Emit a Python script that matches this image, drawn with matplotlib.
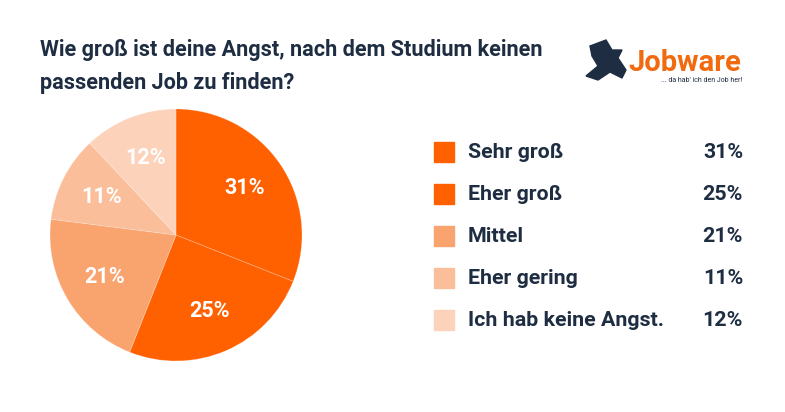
import matplotlib
matplotlib.use("Agg")
import matplotlib.pyplot as plt
from matplotlib.patches import Polygon

plt.rcParams["font.family"] = ["Roboto", "DejaVu Sans"]

# ── data ──────────────────────────────────────────────────────────────
TITLE_LINES = ["Wie groß ist deine Angst, nach dem Studium keinen",
               "passenden Job zu finden?"]
CATEGORIES = ["Sehr groß", "Eher groß", "Mittel", "Eher gering", "Ich hab keine Angst."]
VALUES = [31, 25, 21, 11, 12]
COLORS = ["#FF6000", "#FF6000", "#F9A36F", "#FBBE9A", "#FCD3BA"]

NAVY = "#1E2D42"
W, H = 785, 412

fig = plt.figure(figsize=(W / 100, H / 100), dpi=100)
fig.patch.set_facecolor("white")


def fx(px):
    return px / W


def fy(py):
    return 1 - py / H


# title
for y, line in zip([50, 83], TITLE_LINES):
    fig.text(fx(40), fy(y), line, ha="left", va="center", fontsize=15.6,
             fontweight="bold", color=NAVY)

# ── pie ───────────────────────────────────────────────────────────────
cx, cy, r = 176, 235, 126
ax = fig.add_axes([fx(cx - r), fy(cy + r), 2 * r / W, 2 * r / H])
wedges, texts, autotexts = ax.pie(
    VALUES, colors=COLORS, startangle=90, counterclock=False,
    autopct=lambda p: f"{p:.0f}%", pctdistance=0.66,
    wedgeprops=dict(linewidth=0.6, edgecolor="#FFFFFF40"),
    textprops=dict(color="white", fontsize=15.5, fontweight="bold"))
ax.set_aspect("equal")
ax.set_xlim(-1, 1)
ax.set_ylim(-1, 1)
ax.axis("off")

# ── legend ────────────────────────────────────────────────────────────
row_y = [152, 194, 236, 278, 320]
for y, cat, val, col in zip(row_y, CATEGORIES, VALUES, COLORS):
    fig.patches.append(plt.Rectangle((fx(434), fy(y + 10)), 20 / W, 20 / H,
                                     transform=fig.transFigure, color=col))
    fig.text(fx(468), fy(y), cat, ha="left", va="center", fontsize=15.4,
             fontweight="bold", color=NAVY)
    fig.text(fx(743), fy(y), f"{val}%", ha="right", va="center", fontsize=15.4,
             fontweight="bold", color=NAVY)

# ── logo ──────────────────────────────────────────────────────────────
fig.text(fx(628), fy(63), "Jobware", ha="left", va="center", fontsize=21,
         fontweight="bold", color="#F26A10")
fig.text(fx(742), fy(80), "... da hab' ich den Job her!", ha="right", va="center",
         fontsize=5, color=NAVY)
# running figure (stylised)
icon = [(590, 46), (606, 40), (612, 50), (622, 50), (618, 58), (626, 70),
        (622, 78), (610, 72), (598, 80), (586, 76), (598, 66), (592, 56)]
fig.patches.append(Polygon([(fx(a), fy(b)) for a, b in icon], closed=True,
                           transform=fig.transFigure, color=NAVY))

fig.savefig("out.png", dpi=100)
